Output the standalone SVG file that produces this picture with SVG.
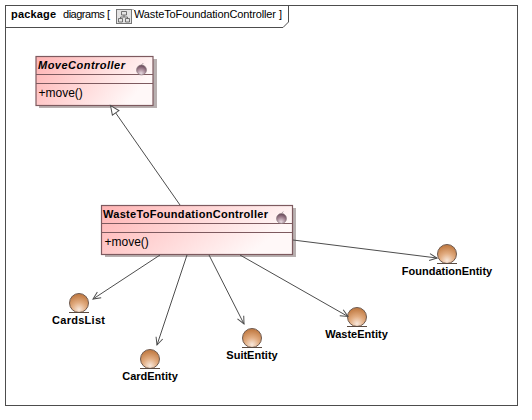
<svg xmlns="http://www.w3.org/2000/svg" width="532" height="420" viewBox="0 0 532 420">
<style>
text{font-family:"Liberation Sans",Arial,sans-serif;font-size:11px;fill:#000}
.b{font-weight:bold}
.box{stroke:#7d5a5f;stroke-width:1.2;fill:url(#cg)}
.sep{stroke:#7d5a5f;stroke-width:1}
.sh{fill:#b8b0b0}
.ball{fill:url(#eg);stroke:#6e5a50;stroke-width:1}
.ul{stroke:#5a4a40;stroke-width:1}
.c{stroke:#4d4d4d;stroke-width:1;fill:none}
.ic{fill:url(#ig);stroke:#8a7a80;stroke-width:.6}
</style>
<defs>
<linearGradient id="cg" x1="0" y1="0" x2="1" y2="0.35"><stop offset="0" stop-color="#ffb3b3"/><stop offset="1" stop-color="#fff8f8"/></linearGradient>
<radialGradient id="eg" cx="0.5" cy="0.85" r="0.75"><stop offset="0" stop-color="#f8e8dc"/><stop offset="0.5" stop-color="#e2ad82"/><stop offset="1" stop-color="#c47f48"/></radialGradient>
<radialGradient id="ig" cx="0.45" cy="0.85" r="0.8"><stop offset="0" stop-color="#e8dce2"/><stop offset="0.55" stop-color="#a78896"/><stop offset="1" stop-color="#6a4a5a"/></radialGradient>
<marker id="o" markerWidth="12" markerHeight="12" refX="9" refY="5" orient="auto" markerUnits="userSpaceOnUse"><path d="M1.500 1.500L9 5L1.500 8.500" fill="none" stroke="#4d4d4d"/></marker>
<marker id="t" markerWidth="14" markerHeight="14" refX="11" refY="6" orient="auto" markerUnits="userSpaceOnUse"><path d="M2 2L11 6L2 10Z" fill="#fff" stroke="#4d4d4d"/></marker>
</defs>
<rect width="532" height="420" fill="#fff"/>
<g id="frame">
<rect x="5.500" y="5.500" width="512" height="400" fill="#fff" stroke="#4d4d4d"/>
<path d="M5.500 27.500H283L288.500 22V5.500" fill="none" stroke="#4d4d4d"/>
<text x="11" y="18" class="b" textLength="45" lengthAdjust="spacing">package</text>
<text x="63" y="18" textLength="47" lengthAdjust="spacing">diagrams [</text>
<rect x="116.500" y="9.500" width="15" height="14" fill="#e4e4e4" stroke="#777"/>
<path d="M121.500 11.500h5v3.500h-5zM118.500 18.500h4v3.500h-4zM125.500 18.500h4v3.500h-4zM124 15v2h-3.500v1.500M124 17h3.500v1.500" fill="none" stroke="#555" stroke-width=".8"/>
<path d="M131.500 9.500h2l1.500 1.500" fill="none" stroke="#999" stroke-width=".7"/>
<text x="134" y="18" textLength="142" lengthAdjust="spacing">WasteToFoundationController</text>
<text x="279" y="18">]</text>
</g>
<g id="MoveController">
<rect class="sh" x="39" y="59" width="118" height="49"/>
<rect class="box" x="36" y="56.500" width="117" height="49"/>
<line class="sep" x1="36" y1="74.500" x2="153" y2="74.500"/>
<line class="sep" x1="36" y1="83.500" x2="153" y2="83.500"/>
<circle class="ic" cx="141.500" cy="70" r="5"/>
<path d="M141.500 65l1.800-2" stroke="#8a7a80" stroke-width=".7" fill="none"/>
<text x="38" y="69" class="b" style="font-style:italic" textLength="87" lengthAdjust="spacing">MoveController</text>
<text x="38.500" y="97" style="font-size:12px">+move()</text>
</g>
<g id="WasteToFoundationController">
<rect class="sh" x="105" y="208" width="191" height="49"/>
<rect class="box" x="101.500" y="205.500" width="191" height="49"/>
<line class="sep" x1="101.500" y1="223.500" x2="292.500" y2="223.500"/>
<line class="sep" x1="101.500" y1="232.500" x2="292.500" y2="232.500"/>
<circle class="ic" cx="281.500" cy="218.500" r="5"/>
<path d="M281.500 213.500l1.800-2" stroke="#8a7a80" stroke-width=".7" fill="none"/>
<text x="103" y="218" class="b" textLength="165" lengthAdjust="spacing">WasteToFoundationController</text>
<text x="104.500" y="246" style="font-size:12px">+move()</text>
</g>
<g id="CardsList">
<circle class="ball" cx="79" cy="303" r="9.500"/><line class="ul" x1="69" y1="312.500" x2="89" y2="312.500"/>
<text x="78.500" y="324" class="b" text-anchor="middle" textLength="53" lengthAdjust="spacing">CardsList</text>
</g>
<g id="CardEntity">
<circle class="ball" cx="150" cy="359" r="9.500"/><line class="ul" x1="140" y1="368.500" x2="160" y2="368.500"/>
<text x="150" y="380" class="b" text-anchor="middle">CardEntity</text>
</g>
<g id="SuitEntity">
<circle class="ball" cx="252" cy="338" r="9.500"/><line class="ul" x1="242" y1="347.500" x2="262" y2="347.500"/>
<text x="252" y="359" class="b" text-anchor="middle">SuitEntity</text>
</g>
<g id="WasteEntity">
<circle class="ball" cx="357" cy="317" r="9.500"/><line class="ul" x1="347" y1="326.500" x2="367" y2="326.500"/>
<text x="356.500" y="338" class="b" text-anchor="middle">WasteEntity</text>
</g>
<g id="FoundationEntity">
<circle class="ball" cx="447" cy="254" r="9.500"/><line class="ul" x1="437" y1="263.500" x2="457" y2="263.500"/>
<text x="447" y="275" class="b" text-anchor="middle">FoundationEntity</text>
</g>
<g id="connectors">
<line class="c" x1="180" y1="205" x2="110.500" y2="105.500" marker-end="url(#t)"/>
<line class="c" x1="160" y1="255" x2="93" y2="299" marker-end="url(#o)"/>
<line class="c" x1="187" y1="255" x2="157" y2="345" marker-end="url(#o)"/>
<line class="c" x1="209" y1="255" x2="244" y2="324" marker-end="url(#o)"/>
<line class="c" x1="240" y1="255" x2="348" y2="316.500" marker-end="url(#o)"/>
<line class="c" x1="293" y1="240" x2="437" y2="258" marker-end="url(#o)"/>
</g>
</svg>
